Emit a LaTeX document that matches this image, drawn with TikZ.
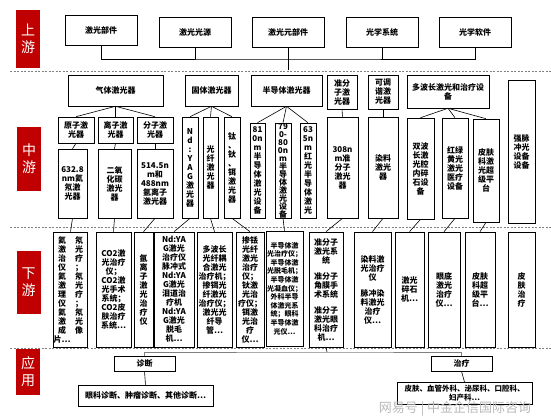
\documentclass[tikz,border=0pt]{standalone}
\usepackage{fontspec}
\setmainfont{Noto Sans CJK SC}
\usetikzlibrary{arrows.meta,positioning}
\definecolor{tagred}{RGB}{192,0,0}

\begin{document}
\begin{tikzpicture}[x=1pt,y=-1pt]
  \tikzstyle{box}=[draw,line width=0.6pt,inner sep=0pt,align=center,font=\fontsize{8}{9}\selectfont\bfseries]
  \tikzstyle{tag}=[fill=tagred,text=white,inner sep=0pt,align=center,minimum width=24pt,font=\fontsize{14}{17}\selectfont]
  \tikzstyle{sep}=[gray,line width=0.8pt,dash pattern=on 2pt off 1.5pt]
  \tikzstyle{link}=[line width=0.6pt]
  \tikzstyle{ubox}=[box,minimum width=72pt,minimum height=30pt]
  \tikzstyle{dbox}=[box,minimum height=115pt]
  \useasboundingbox (0,0) rectangle (551,418);

  % stage tags
  \node[tag,minimum height=58pt] (t1) at (28,39) {上\\游};
  \node[tag,minimum height=64pt] (t2) at (29,159) {中\\游};
  \node[tag,minimum height=63pt] (t3) at (28.5,282.5) {下\\游};
  \node[tag,minimum height=46pt] (t4) at (28,372) {应\\用};

  \draw[sep] (10,71) -- (551,71);
  \draw[sep] (10,227) -- (551,227);
  \draw[sep] (10,348) -- (551,348);

  % upstream
  \node[ubox] (u1) at (101,30) {激光部件};
  \node[ubox] (u2) at (195,32) {激光光源};
  \node[ubox] (u3) at (288,32) {激光元部件};
  \node[ubox] (u4) at (382,32) {光学系统};
  \node[ubox] (u5) at (475,32) {光学软件};
  \coordinate (ubus) at (288,59);
  \coordinate (ujoin) at (288,70);
  \draw[link] (u1.south) |- (ubus) -| (u5.south);
  \draw[link] (u2.south) -- (u2.south |- ubus);
  \draw[link] (u4.south) -- (u4.south |- ubus);
  \draw[link] (u3.south) -- (ujoin);

  % midstream, first row
  \node[box,minimum width=95pt,minimum height=31pt] (m1) at (115.5,90.5) {气体激光器};
  \node[box,minimum width=53pt,minimum height=31pt] (m2) at (211.5,90.5) {固体激光器};
  \node[box,minimum width=71pt,minimum height=31pt] (m3) at (286.5,90.5) {半导体激光器};
  \node[box,minimum width=30pt,minimum height=34pt] (m4) at (342,92) {准分\\子激\\光器};
  \node[box,minimum width=30pt,minimum height=34pt] (m5) at (383,92) {可调\\谐激\\光器};
  \node[box,minimum width=82pt,minimum height=33pt] (m6) at (448,91.5) {多波长激光和治疗设\\备};
  \node[box,minimum width=27pt,minimum height=143pt] (m7) at (521.5,151.5) {强脉\\冲光\\设备\\设备};

  % gas lasers
  \node[box,minimum width=36pt,minimum height=26pt] (g1) at (76,130) {原子激\\光器};
  \node[box,minimum width=35pt,minimum height=26pt] (g2) at (115.5,130) {离子激\\光器};
  \node[box,minimum width=36pt,minimum height=26pt] (g3) at (155,130) {分子激\\光器};
  \node[box,minimum width=29pt,minimum height=69pt] (g4) at (72.5,183.5) {632.8\\nm氦\\氖激\\光器};
  \node[box,minimum width=33pt,minimum height=69pt] (g5) at (114.5,183.5) {二氧\\化碳\\激光\\器};
  \node[box,minimum width=36pt,minimum height=69pt] (g6) at (155,183.5) {514.5n\\m和\\488nm\\氩离子\\激光器};
  \draw[link] (m1.south) -- (g1.north);
  \draw[link] (m1.south) -- (g2.north);
  \draw[link] (m1.south) -- (g3.north);
  \draw[link] (g1.south) -- (g4.north);
  \draw[link] (g2.south) -- (g5.north);
  \draw[link] (g3.south) -- (g6.north);

  % solid lasers
  \node[box,minimum width=16pt,minimum height=101pt] (s1) at (190,167.5) {N\\d\\:\\Y\\A\\G\\激\\光\\器};
  \node[box,minimum width=15pt,minimum height=101pt] (s2) at (210.5,167.5) {光\\纤\\激\\光\\器};
  \node[box,minimum width=16pt,minimum height=101pt] (s3) at (232,167.5) {钛\\、\\钬\\、\\铒\\激\\光\\器};
  \draw[link] (m2.south) -- (s1.north);
  \draw[link] (m2.south) -- (s2.north);
  \draw[link] (m2.south) -- (s3.north);

  % semiconductor lasers
  \node[box,minimum width=15pt,minimum height=95pt] (c1) at (257.5,170.5) {81\\0n\\m\\半\\导\\体\\激\\光\\设\\备};
  \node[box,minimum width=16pt,minimum height=95pt,font=\fontsize{8}{8}\selectfont\bfseries] (c2) at (283,170.5) {79\\0-\\80\\0n\\m\\半\\导\\体\\激\\光\\设\\备};
  \node[box,minimum width=16pt,minimum height=95pt] (c3) at (308,170.5) {63\\5n\\m\\红\\光\\半\\导\\体\\激\\光};
  \draw[link] (m3.south) -- (c1.north);
  \draw[link] (m3.south) -- (c2.north);
  \draw[link] (m3.south) -- (c3.north);

  % excimer, dye, multi-wavelength
  \node[box,minimum width=31pt,minimum height=101pt] (x1) at (342.5,167.5) {308n\\m准\\分子\\激光\\器};
  \node[box,minimum width=30pt,minimum height=101pt] (y1) at (383,167.5) {染料\\激光\\器};
  \draw[link] (m4.south) -- (x1.north);
  \draw[link] (m5.south) -- (y1.north);
  \node[box,minimum width=27pt,minimum height=101pt] (w1) at (420.5,168.5) {双波\\长激\\光腔\\内碎\\石设\\备};
  \node[box,minimum width=26pt,minimum height=100pt] (w2) at (455,168) {红绿\\黄光\\激光\\医疗\\设备};
  \node[box,minimum width=26pt,minimum height=103pt] (w3) at (486,170.5) {皮肤\\科激\\光超\\级平\\台};
  \draw[link] (m6.south) -- (w1.north);
  \draw[link] (m6.south) -- (w2.north);
  \draw[link] (m6.south) -- (w3.north);

  % downstream
  \node[dbox,minimum width=33pt] (d1) at (70.5,289.5) {氦\hspace{9pt}氖\\激\hspace{9pt}光\\治\hspace{9pt}疗\\仪\hspace{9pt}；\\氦\hspace{9pt}氖\\激\hspace{9pt}光\\理\hspace{9pt}疗\\仪\hspace{9pt}；\\氦\hspace{9pt}氖\\激\hspace{9pt}光\\成\hspace{9pt}像\\片…\hspace{9pt}\phantom{氖}};
  \node[dbox,minimum width=35pt] (d2) at (113.5,289.5) {CO2激\\光治疗\\仪；\\CO2激\\光手术\\系统；\\CO2皮\\肤治疗\\系统…};
  \node[dbox,minimum width=19pt] (d3) at (143.5,289.5) {氩\\离\\子\\激\\光\\治\\疗\\仪};
  \node[dbox,minimum width=40pt] (d4) at (174,289.5) {Nd:YA\\G激光\\治疗仪\\脉冲式\\Nd:YA\\G激光\\泪道治\\疗机\\Nd:YA\\G激光\\脱毛\\机…};
  \node[dbox,minimum width=35pt] (d5) at (214.5,289.5) {多波长\\光纤耦\\合激光\\治疗机；\\掺铒光\\纤激光\\治疗仪；\\激光光\\纤导\\管…};
  \node[dbox,minimum width=28pt] (d6) at (250,289.5) {掺铥\\光纤\\激光\\治疗\\仪；\\钬激\\光治\\疗仪；\\铒激\\光治\\疗\\仪…};
  \node[dbox,minimum width=37pt,font=\fontsize{7}{8.6}\selectfont\bfseries] (d7) at (284.5,288.5) {半导体激\\光治疗仪；\\半导体激\\光脱毛机；\\半导体激\\光凝血仪；\\外科半导\\体激光系\\统；眼科\\半导体激\\光仪…};
  \node[dbox,minimum width=34pt] (d8) at (326,289.5) {准分子\\激光系\\统\\[7pt]准分子\\角膜手\\术系统\\[7pt]准分子\\激光眼\\科治疗\\机…};
  \node[dbox,minimum width=37pt] (d9) at (372.5,289.5) {染料激\\光治疗\\仪\\[7pt]脉冲染\\料激光\\治疗\\仪…};
  \node[dbox,minimum width=29pt] (d10) at (409.5,289.5) {激光\\碎石\\机…};
  \node[dbox,minimum width=32pt] (d11) at (444,289.5) {眼底\\激光\\治疗\\仪…};
  \node[dbox,minimum width=30pt] (d12) at (480,289.5) {皮肤\\科超\\级平\\台…};
  \node[dbox,minimum width=27pt] (d13) at (521.5,289.5) {皮\\肤\\治\\疗};
  \draw[link] (g4.south) -- (d1.north);
  \draw[link] (g5.south) -- (d2.north);
  \draw[link] (g6.south) -- (d3.north);
  \draw[link] (s1.south) -- (d4.north);
  \draw[link] (s2.south) -- (d5.north);
  \draw[link] (s3.south) -- (d6.north);
  \draw[link] (c2.south) -- (d7.north);
  \draw[link] (x1.south) -- (d8.north);
  \draw[link] (y1.south) -- (d9.north);
  \draw[link] (w1.south) -- (d10.north);
  \draw[link] (w2.south) -- (d11.north);
  \draw[link] (w3.south) -- (d12.north);

  % applications
  \node[box,minimum width=61pt,minimum height=15pt] (a1) at (144.5,363.5) {诊断};
  \node[box,minimum width=61pt,minimum height=15pt] (a2) at (461.5,363.5) {治疗};
  \node[box,minimum width=135pt,minimum height=21pt] (a3) at (145.5,395.5) {眼科诊断、肿瘤诊断、其他诊断…};
  \node[box,minimum width=135pt,minimum height=22pt,anchor=north,font=\fontsize{7.5}{8.5}\selectfont\bfseries] (a4) at (464.5,382) {皮肤、血管外科、泌尿科、口腔科、\\妇产科…};
  \coordinate (abus) at (327,352);
  \draw[link] (d8.south) -- (abus);
  \draw[link,gray] (a1.north) |- (abus) -| (a2.north);
  \draw[link] (a1.south) -- (a3.north);
  \draw[link] (a2.south) -- (a4.north);

  \node[text=gray!55,font=\fontsize{13}{15}\selectfont] (mark) at (455,409) {网易号 | 中金企信国际咨询};
\end{tikzpicture}
\end{document}
